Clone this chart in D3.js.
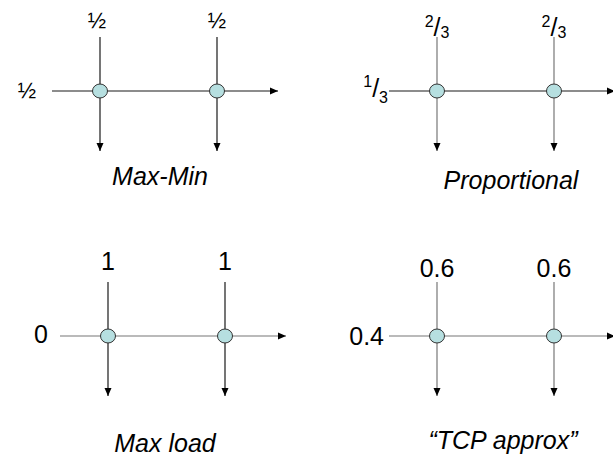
<!DOCTYPE html>
<html>
<head>
<meta charset="utf-8">
<script src="https://cdn.jsdelivr.net/npm/d3@7"></script>
<style>
body { margin: 0; background: white; }
text { font-family: "Liberation Sans", Arial, sans-serif; fill: #000; }
</style>
</head>
<body>
<div id="container"></div>
<script>
var w = 613, h = 456;

// panel data
var titles = ["Max-Min", "Proportional", "Max load", "\u201CTCP approx\u201D"];
var topLabels = ["\u00BD", ["2", "3"], "1", "0.6"];
var leftLabels = ["\u00BD", ["1", "3"], "0", "0.4"];
var nodes = ["a", "b"];

// layout per panel (offsets from the first node / flow line)
var layout = [
  { ox: 100, oy: 91,  topY: -63, leftX: -64, leftY: 7, tx: 60, ty: 94,  hc: "#1a1a1a", vc: "#1a1a1a" },
  { ox: 437, oy: 91,  topY: -55, leftX: -49, leftY: 6, tx: 74, ty: 98,  hc: "#1a1a1a", vc: "#777" },
  { ox: 108, oy: 336, topY: -66, leftX: -60, leftY: 7, tx: 57, ty: 116, hc: "#777", vc: "#1a1a1a" },
  { ox: 437, oy: 336, topY: -59, leftX: -53, leftY: 9, tx: 66, ty: 113, hc: "#777", vc: "#777" }
];

var svg = d3.select("div#container").append("svg")
    .attr("width", w).attr("height", h);

svg.append("defs").append("marker").attr("id", "arr")
    .attr("viewBox", "0 0 8 8").attr("refX", 8).attr("refY", 4)
    .attr("markerWidth", 8).attr("markerHeight", 8)
    .attr("markerUnits", "userSpaceOnUse").attr("orient", "auto")
  .append("path").attr("d", "M0,0.5 L8,4 L0,7.5 Z").attr("fill", "#000");

var nx = d3.scalePoint().domain(nodes).range([0, 117]);

// plain text or a stacked fraction like 2/3
function label(sel, f, size, up) {
  if (typeof f === "string") { sel.attr("font-size", size).text(f); return; }
  sel.attr("font-size", 25);
  sel.append("tspan").attr("dy", -up).attr("font-size", 16).text(f[0]);
  sel.append("tspan").attr("dy", up).text("/");
  sel.append("tspan").attr("dy", up === 9 ? 2 : 6).attr("font-size", 16).text(f[1]);
}

titles.forEach(function(t, i) {
  var L = layout[i];
  var g = svg.append("g").attr("transform", "translate(" + L.ox + "," + L.oy + ")");

  // flow through both links
  g.append("line").attr("x1", -48).attr("x2", nx("b") + 61)
    .attr("y1", 0).attr("y2", 0)
    .attr("stroke", L.hc).attr("stroke-width", 1.2).attr("marker-end", "url(#arr)");

  nodes.forEach(function(n) {
    var x = nx(n);
    g.append("line").attr("x1", x).attr("x2", x).attr("y1", -54).attr("y2", 60)
      .attr("stroke", L.vc).attr("stroke-width", 1.2).attr("marker-end", "url(#arr)");
    g.append("ellipse").attr("cx", x).attr("cy", 0).attr("rx", 7.5).attr("ry", 7)
      .attr("fill", "#b6dfe0").attr("stroke", "#333").attr("stroke-width", 1);
    var tl = g.append("text").attr("x", x - (i === 0 && n === "a" ? 3 : 0)).attr("y", L.topY)
      .attr("text-anchor", "middle");
    label(tl, topLabels[i], topLabels[i] === "\u00BD" ? 22 : 25, 9);
  });

  var ll = g.append("text").attr("x", L.leftX).attr("y", L.leftY).attr("text-anchor", "end");
  label(ll, leftLabels[i], leftLabels[i] === "\u00BD" ? 22 : 25, 10);

  g.append("text").attr("x", L.tx).attr("y", L.ty)
    .attr("text-anchor", "middle").attr("font-size", 25).attr("font-style", "italic").text(t);
});
</script>
</body>
</html>
